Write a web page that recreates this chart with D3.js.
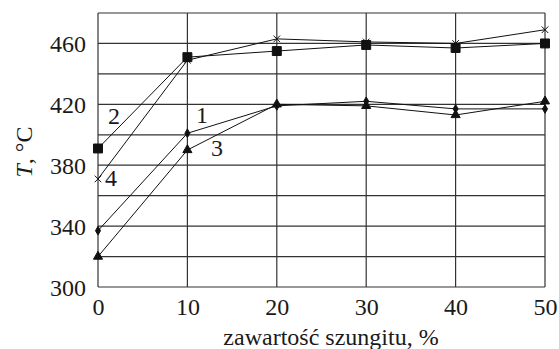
<!DOCTYPE html>
<html>
<head>
<meta charset="utf-8">
<script src="https://cdn.jsdelivr.net/npm/d3@7"></script>
<style>
  body { margin: 0; background: #fff; }
  svg text { font-family: "Liberation Serif", "Times New Roman", serif; fill: #1a1a1a; }
</style>
</head>
<body>
<svg id="chart" width="559" height="349"></svg>
<script>
// shungite content, %
const contents = [0, 10, 20, 30, 40, 50];
const series1 = [337, 401, 419, 422, 417, 417];
const series2 = [391, 451, 455, 459, 457, 460];
const series3 = [320, 390, 420, 419, 413, 422];
const series4 = [371, 449, 463, 461, 460, 469];
const yTickLabels = [300, 340, 380, 420, 460];
const yGrid = [320, 360, 400, 440, 480];
const xTicks = [0, 10, 20, 30, 40, 50];

const FONT = "Liberation Serif, Times New Roman, serif";

const svg = d3.select("#chart");
const margin = { left: 98, right: 14, top: 13, bottom: 62 };
const width = +svg.attr("width") - margin.left - margin.right;
const height = +svg.attr("height") - margin.top - margin.bottom;

const g = svg.append("g")
  .attr("transform", "translate(" + margin.left + "," + margin.top + ")");

const x = d3.scaleLinear().domain([0, 50]).range([0, width]);
const y = d3.scaleLinear().domain([300, 480]).range([height, 0]);

// grid
g.selectAll(".hgrid")
  .data(yTickLabels.concat(yGrid))
  .enter().append("line")
  .attr("x1", 0).attr("x2", width)
  .attr("y1", d => y(d)).attr("y2", d => y(d))
  .attr("stroke", "#333").attr("stroke-width", 1.2);

g.selectAll(".vgrid")
  .data(xTicks)
  .enter().append("line")
  .attr("x1", d => x(d)).attr("x2", d => x(d))
  .attr("y1", 0).attr("y2", height)
  .attr("stroke", "#333").attr("stroke-width", 1.2);

// axes labels
const yAxis = g.append("g")
  .call(d3.axisLeft(y).tickValues(yTickLabels).tickSize(0).tickPadding(12));
yAxis.attr("font-family", FONT);
yAxis.select(".domain").remove();
yAxis.selectAll("text").attr("font-size", "24px").attr("dy", "0.34em");

const xAxis = g.append("g")
  .attr("transform", "translate(0," + height + ")")
  .call(d3.axisBottom(x).tickValues(xTicks).tickSize(0).tickPadding(11));
xAxis.attr("font-family", FONT);
xAxis.select(".domain").remove();
xAxis.selectAll("text").attr("font-size", "24px");

svg.append("text")
  .attr("x", 331).attr("y", 345)
  .attr("text-anchor", "middle")
  .attr("font-family", FONT)
  .attr("font-size", "24px")
  .text("zawartość szungitu, %");

const yt = svg.append("text")
  .attr("transform", "translate(32,152) rotate(-90)")
  .attr("text-anchor", "middle")
  .attr("font-family", FONT)
  .attr("font-size", "24px");
yt.append("tspan").attr("font-style", "italic").text("T");
yt.append("tspan").text(", °C");

// lines
const line = d3.line().x((d, i) => x(contents[i])).y(d => y(d));
const allSeries = [
  { values: series1, symbol: d3.symbolDiamond, size: 22 },
  { values: series2, symbol: d3.symbolSquare, size: 80 },
  { values: series3, symbol: d3.symbolTriangle, size: 36 },
  { values: series4, symbol: d3.symbolX, size: 30 }
];

allSeries.forEach(s => {
  g.append("path")
    .datum(s.values)
    .attr("d", line)
    .attr("fill", "none")
    .attr("stroke", "#111")
    .attr("stroke-width", 1);

  g.selectAll(null)
    .data(s.values)
    .enter().append("path")
    .attr("transform", (d, i) => "translate(" + x(contents[i]) + "," + y(d) + ")")
    .attr("d", d3.symbol().type(s.symbol).size(s.size))
    .attr("fill", s.symbol === d3.symbolX ? "none" : "#111")
    .attr("stroke", "#111")
    .attr("stroke-width", 1);
});

// series labels
const labels = [
  { t: "1", x: 202, y: 115 },
  { t: "2", x: 114, y: 116 },
  { t: "3", x: 217, y: 148 },
  { t: "4", x: 111, y: 178 }
];
svg.selectAll(".lbl")
  .data(labels)
  .enter().append("text")
  .attr("x", d => d.x).attr("y", d => d.y)
  .attr("dy", "0.35em")
  .attr("text-anchor", "middle")
  .attr("font-family", FONT)
  .attr("font-size", "24px")
  .text(d => d.t);
</script>
</body>
</html>
